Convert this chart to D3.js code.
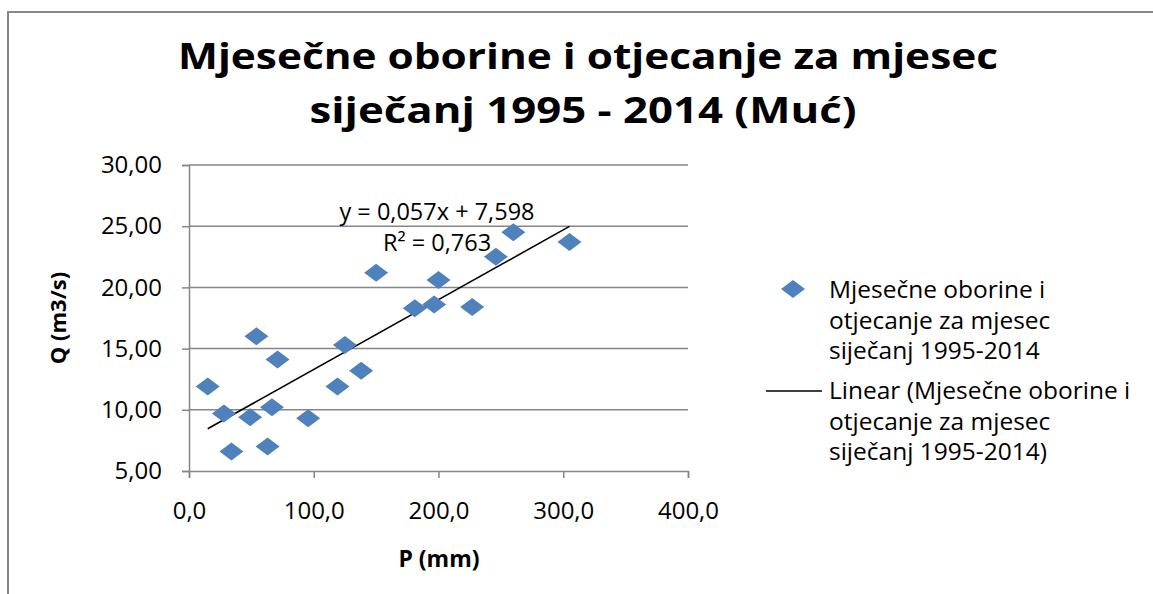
<!DOCTYPE html>
<html lang="hr">

<head>
    <meta charset="UTF-8">
    <title>Mjesečne oborine i otjecanje</title>
    <script src="https://cdn.jsdelivr.net/npm/d3@7"></script>
    <style>
        body {
            margin: 0;
            background: #fff;
        }
        #chart text {
            font-family: "Open Sans", "Noto Sans", sans-serif;
        }
    </style>
</head>

<body>
    <div id="chart"></div>
    <script>
        // sijecanj 1995 - 2014, P (mm) i Q (m3/s)
        const oborine = [15, 28, 34, 49, 54, 63, 66.5, 71, 95.5, 119, 125, 138, 150, 181, 196.5, 200, 227, 246, 260, 305];
        const otjecanje = [11.9, 9.7, 6.6, 9.4, 16.0, 7.0, 10.2, 14.1, 9.3, 11.9, 15.3, 13.2, 21.2, 18.3, 18.6, 20.6, 18.4, 22.5, 24.5, 23.7];
        const xTicks = [0, 100, 200, 300, 400];
        const yTicks = [5, 10, 15, 20, 25, 30];
        // linearni trend kako ga je ispisao Excel
        const nagib = 0.057;
        const odsjecak = 7.598;
        const r2 = 0.763;
        const naslov = ["Mjesečne oborine i otjecanje za mjesec", "siječanj 1995 - 2014 (Muć)"];
        const legenda1 = ["Mjesečne oborine i", "otjecanje za mjesec", "siječanj 1995-2014"];
        const legenda2 = ["Linear (Mjesečne oborine i", "otjecanje za mjesec", "siječanj 1995-2014)"];

        const width = 1153;
        const height = 594;
        const blue = "#4f81bd";
        const gray = "#868686";

        const hr = d3.formatLocale({ decimal: ",", thousands: ".", grouping: [3], currency: ["", " kn"] });
        const fx = hr.format(".1f");
        const fy = hr.format(".2f");
        const f3 = hr.format(".3f");

        const svg = d3.select("#chart")
            .append("svg")
            .attr("width", width)
            .attr("height", height);

        svg.append("rect")
            .attr("x", 8)
            .attr("y", 12)
            .attr("width", width + 20)
            .attr("height", height + 20)
            .attr("fill", "#fff")
            .attr("stroke", gray)
            .attr("stroke-width", 2);

        const x = d3.scaleLinear().domain([0, 400]).range([189, 688]);
        const y = d3.scaleLinear().domain([5, 30]).range([471, 165]);

        // naslov
        svg.append("g")
            .selectAll("text")
            .data(naslov)
            .join("text")
            .attr("x", (d, i) => i ? 583 : 588)
            .attr("y", (d, i) => 69 + i * 54)
            .attr("text-anchor", "middle")
            .attr("font-size", 36)
            .attr("font-weight", "bold")
            .attr("textLength", (d, i) => i ? 547 : 820)
            .attr("lengthAdjust", "spacingAndGlyphs")
            .text(d => d);

        // mreza
        svg.append("g")
            .selectAll("line")
            .data(yTicks.slice(1))
            .join("line")
            .attr("x1", x(0))
            .attr("x2", x(400))
            .attr("y1", d => y(d))
            .attr("y2", d => y(d))
            .attr("stroke", gray)
            .attr("stroke-width", 1.5);

        const yAxis = svg.append("g")
            .attr("transform", `translate(${x(0)},0)`)
            .call(d3.axisLeft(y).tickValues(yTicks).tickSize(7).tickPadding(20).tickFormat(fy));
        const xAxis = svg.append("g")
            .attr("transform", `translate(0,${y(5)})`)
            .call(d3.axisBottom(x).tickValues(xTicks).tickSize(7).tickPadding(24).tickFormat(fx));
        [yAxis, xAxis].forEach(a => {
            a.select(".domain").attr("stroke", gray).attr("stroke-width", 1.5);
            a.selectAll(".tick line").attr("stroke", gray).attr("stroke-width", 1.5);
            a.selectAll("text")
                .attr("font-size", 24)
                .attr("fill", "#000")
                .style("font-family", "'Open Sans', sans-serif");
        });

        svg.append("text")
            .attr("transform", "translate(66,318) rotate(-90)")
            .attr("text-anchor", "middle")
            .attr("font-size", 22)
            .attr("font-weight", "bold")
            .text("Q (m3/s)");
        svg.append("text")
            .attr("x", 439)
            .attr("y", 567)
            .attr("text-anchor", "middle")
            .attr("font-size", 23)
            .attr("font-weight", "bold")
            .text("P (mm)");

        // trend
        const ext = d3.extent(oborine);
        svg.append("line")
            .attr("x1", x(ext[0]))
            .attr("y1", y(nagib * ext[0] + odsjecak))
            .attr("x2", x(ext[1]))
            .attr("y2", y(nagib * ext[1] + odsjecak))
            .attr("stroke", "#000")
            .attr("stroke-width", 1.6);

        const diamond = "M0,-9L12,0L0,9L-12,0Z";
        svg.append("g")
            .selectAll("path")
            .data(oborine.map((p, i) => [p, otjecanje[i]]))
            .join("path")
            .attr("d", diamond)
            .attr("transform", d => `translate(${x(d[0])},${y(d[1])})`)
            .attr("fill", blue);

        svg.append("text")
            .attr("x", 437)
            .attr("y", 220)
            .attr("text-anchor", "middle")
            .attr("font-size", 23.5)
            .text(`y = ${f3(nagib)}x + ${f3(odsjecak)}`);
        svg.append("text")
            .attr("x", 437)
            .attr("y", 251)
            .attr("text-anchor", "middle")
            .attr("font-size", 23.5)
            .text(`R² = ${f3(r2)}`);

        // legenda
        svg.append("path")
            .attr("d", diamond)
            .attr("transform", "translate(793,289)")
            .attr("fill", blue);
        svg.append("line")
            .attr("x1", 766)
            .attr("x2", 822)
            .attr("y1", 391)
            .attr("y2", 391)
            .attr("stroke", "#000")
            .attr("stroke-width", 1.6);
        [[legenda1, 298], [legenda2, 399]].forEach(([lines, y0]) => {
            svg.append("g")
                .selectAll("text")
                .data(lines)
                .join("text")
                .attr("x", 829)
                .attr("y", (d, i) => y0 + i * 30.5)
                .attr("font-size", 24.5)
                .text(d => d);
        });
    </script>
</body>

</html>
